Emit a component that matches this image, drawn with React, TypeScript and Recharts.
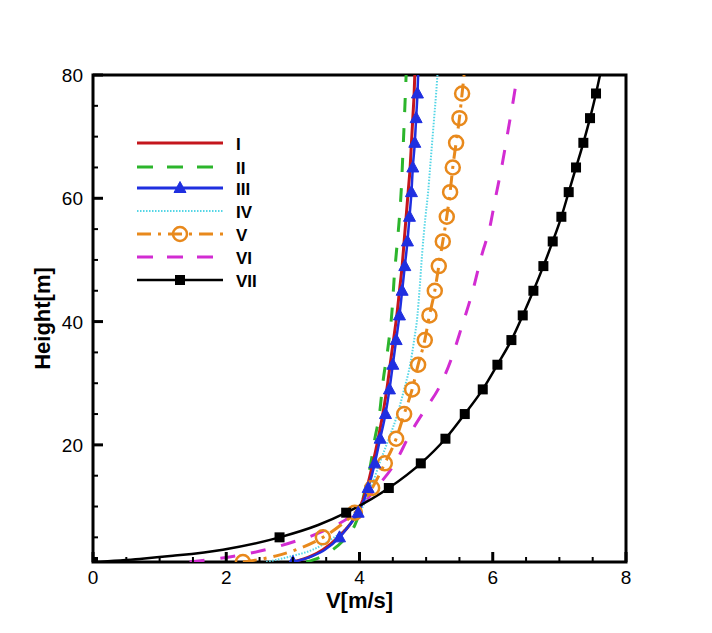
import React from 'react';
import { ComposedChart, Line, XAxis, YAxis, ReferenceArea } from 'recharts';

// Height [m] / velocity [m/s] profiles
const seriesI = [
  { h: 1, v: 3.0 }, { h: 2, v: 3.28 }, { h: 3, v: 3.45 }, { h: 5, v: 3.68 }, { h: 7, v: 3.85 },
  { h: 9, v: 3.97 }, { h: 13, v: 4.11 }, { h: 17, v: 4.2 }, { h: 21, v: 4.28 }, { h: 25, v: 4.35 },
  { h: 29, v: 4.41 }, { h: 33, v: 4.46 }, { h: 37, v: 4.51 }, { h: 41, v: 4.56 }, { h: 45, v: 4.6 },
  { h: 49, v: 4.64 }, { h: 53, v: 4.67 }, { h: 57, v: 4.7 }, { h: 61, v: 4.73 }, { h: 65, v: 4.76 },
  { h: 69, v: 4.78 }, { h: 73, v: 4.8 }, { h: 77, v: 4.82 }, { h: 80, v: 4.83 },
];
const seriesII = [
  { h: 1, v: 3.2 }, { h: 2, v: 3.45 }, { h: 3, v: 3.6 }, { h: 5, v: 3.8 }, { h: 7, v: 3.93 },
  { h: 9, v: 4.0 }, { h: 13, v: 4.09 }, { h: 17, v: 4.17 }, { h: 21, v: 4.23 }, { h: 25, v: 4.3 },
  { h: 30, v: 4.35 }, { h: 36, v: 4.43 }, { h: 42, v: 4.49 }, { h: 47, v: 4.52 }, { h: 52, v: 4.56 },
  { h: 57, v: 4.6 }, { h: 62, v: 4.63 }, { h: 67, v: 4.65 }, { h: 72, v: 4.67 }, { h: 80, v: 4.7 },
];
const seriesIII = [
  { h: 1, v: 3.0 }, { h: 2, v: 3.3 }, { h: 3, v: 3.48 }, { h: 5, v: 3.7 }, { h: 7, v: 3.85 },
  { h: 9, v: 3.98 }, { h: 13, v: 4.13 }, { h: 17, v: 4.23 }, { h: 21, v: 4.31 }, { h: 25, v: 4.39 },
  { h: 29, v: 4.45 }, { h: 33, v: 4.5 }, { h: 37, v: 4.55 }, { h: 41, v: 4.6 }, { h: 45, v: 4.64 },
  { h: 49, v: 4.68 }, { h: 53, v: 4.72 }, { h: 57, v: 4.75 }, { h: 61, v: 4.78 }, { h: 65, v: 4.8 },
  { h: 69, v: 4.83 }, { h: 73, v: 4.85 }, { h: 77, v: 4.87 }, { h: 80, v: 4.88 },
];
const seriesIV = [
  { h: 1, v: 2.6 }, { h: 2, v: 3.0 }, { h: 3, v: 3.3 }, { h: 5, v: 3.62 }, { h: 7, v: 3.85 },
  { h: 9, v: 4.0 }, { h: 13, v: 4.17 }, { h: 17, v: 4.3 }, { h: 21, v: 4.44 }, { h: 25, v: 4.57 },
  { h: 29, v: 4.67 }, { h: 33, v: 4.76 }, { h: 37, v: 4.82 }, { h: 41, v: 4.87 }, { h: 45, v: 4.9 },
  { h: 51, v: 4.94 }, { h: 57, v: 4.99 }, { h: 61, v: 5.03 }, { h: 65, v: 5.06 }, { h: 69, v: 5.09 },
  { h: 73, v: 5.12 }, { h: 77, v: 5.15 }, { h: 80, v: 5.17 },
];
const seriesV = [
  { h: 1, v: 2.25 }, { h: 2, v: 2.75 }, { h: 3, v: 3.05 }, { h: 5, v: 3.45 }, { h: 7, v: 3.72 },
  { h: 9, v: 3.93 }, { h: 13, v: 4.19 }, { h: 17, v: 4.38 }, { h: 21, v: 4.55 }, { h: 25, v: 4.67 },
  { h: 29, v: 4.79 }, { h: 33, v: 4.88 }, { h: 37, v: 4.98 }, { h: 41, v: 5.05 }, { h: 45, v: 5.13 },
  { h: 49, v: 5.19 }, { h: 53, v: 5.25 }, { h: 57, v: 5.31 }, { h: 61, v: 5.36 }, { h: 65, v: 5.4 },
  { h: 69, v: 5.45 }, { h: 73, v: 5.5 }, { h: 77, v: 5.54 }, { h: 80, v: 5.57 },
];
const seriesVI = [
  { h: 1, v: 1.45 }, { h: 2, v: 2.15 }, { h: 3, v: 2.6 }, { h: 4, v: 2.93 }, { h: 6, v: 3.45 },
  { h: 9, v: 3.93 }, { h: 13, v: 4.25 }, { h: 17, v: 4.53 }, { h: 22, v: 4.77 }, { h: 26, v: 5.0 },
  { h: 29, v: 5.18 }, { h: 34, v: 5.38 }, { h: 39, v: 5.53 }, { h: 45, v: 5.7 }, { h: 51, v: 5.84 },
  { h: 55, v: 5.95 }, { h: 60, v: 6.04 }, { h: 66, v: 6.15 }, { h: 71, v: 6.23 }, { h: 76, v: 6.31 },
  { h: 78, v: 6.34 },
];
const seriesVII = [
  { h: 1, v: 0 }, { h: 1.5, v: 0.7 }, { h: 2, v: 1.2 }, { h: 3, v: 1.95 }, { h: 5, v: 2.8 },
  { h: 7, v: 3.38 }, { h: 9, v: 3.8 }, { h: 13, v: 4.44 }, { h: 17, v: 4.92 }, { h: 21, v: 5.29 },
  { h: 25, v: 5.58 }, { h: 29, v: 5.85 }, { h: 33, v: 6.07 }, { h: 37, v: 6.28 }, { h: 41, v: 6.45 },
  { h: 45, v: 6.61 }, { h: 49, v: 6.76 }, { h: 53, v: 6.9 }, { h: 57, v: 7.03 }, { h: 61, v: 7.14 },
  { h: 65, v: 7.25 }, { h: 69, v: 7.36 }, { h: 73, v: 7.46 }, { h: 77, v: 7.55 }, { h: 80, v: 7.61 },
];

const MARKER_HEIGHTS = [1, 5, 9, 13, 17, 21, 25, 29, 33, 37, 41, 45, 49, 53, 57, 61, 65, 69, 73, 77];
const X_TICKS = [0, 0.5, 1, 1.5, 2, 2.5, 3, 3.5, 4, 4.5, 5, 5.5, 6, 6.5, 7, 7.5, 8];
const Y_TICKS = [5, 10, 15, 20, 25, 30, 35, 40, 45, 50, 55, 60, 65, 70, 75, 80];
const LEGEND_LABELS = ['I', 'II', 'III', 'IV', 'V', 'VI', 'VII'];

const FONT = '"Liberation Sans", Arial, Helvetica, sans-serif';

const C_RED = '#C4161C';
const C_GREEN = '#2CB52C';
const C_BLUE = '#1F2FE0';
const C_CYAN = '#55D6E6';
const C_ORANGE = '#E8891C';
const C_MAGENTA = '#D22CD2';
const C_BLACK = '#000000';

const Tri = ({ cx, cy, color }: any) => (
  <path d={`M${cx},${cy - 6.5} L${cx + 6},${cy + 4.5} L${cx - 6},${cy + 4.5} Z`} fill={color} stroke={color} strokeWidth={1} />
);
const Circ = ({ cx, cy, color }: any) => (
  <circle cx={cx} cy={cy} r={7} fill="none" stroke={color} strokeWidth={2.5} />
);
const Sq = ({ cx, cy, color }: any) => (
  <rect x={cx - 5} y={cy - 5} width={10} height={10} fill={color} />
);

const makeDot = (Shape: any, color: string) => (props: any) => {
  const { cx, cy, payload, index } = props;
  if (!payload || !MARKER_HEIGHTS.includes(payload.h) || cx == null || cy == null) {
    return <g key={`d-${index}`} />;
  }
  return (
    <g key={`d-${index}`}>
      <Shape cx={cx} cy={cy} color={color} />
    </g>
  );
};

const XTick = (props: any) => {
  const { x, y, payload } = props;
  const val = payload.value;
  const major = val % 2 === 0;
  return (
    <g>
      <line x1={x} y1={y} x2={x} y2={y - (major ? 10 : 5)} stroke="#000" strokeWidth={major ? 3 : 2} />
      {major && (
        <text x={x} y={y + 22} textAnchor="middle" fontFamily={FONT} fontSize={19} fill="#000">
          {val}
        </text>
      )}
    </g>
  );
};

const YTick = (props: any) => {
  const { x, y, payload } = props;
  const val = payload.value;
  const major = val % 20 === 0;
  return (
    <g>
      <line x1={x} y1={y} x2={x + (major ? 10 : 5)} y2={y} stroke="#000" strokeWidth={major ? 3 : 2} />
      {major && (
        <text x={x - 10} y={y + 7} textAnchor="end" fontFamily={FONT} fontSize={19} fill="#000">
          {val}
        </text>
      )}
    </g>
  );
};

const YLabel = (props: any) => {
  const vb = props.viewBox || {};
  const cx = vb.x + 50;
  const cy = vb.y + vb.height / 2;
  return (
    <text
      x={cx}
      y={cy}
      transform={`rotate(-90 ${cx} ${cy})`}
      textAnchor="middle"
      fontFamily={FONT}
      fontSize={22}
      fontWeight="bold"
      fill="#000"
    >
      Height[m]
    </text>
  );
};

const XLabel = (props: any) => {
  const vb = props.viewBox || {};
  const cx = vb.x + vb.width / 2;
  const cy = vb.y + 46;
  return (
    <text x={cx} y={cy} textAnchor="middle" fontFamily={FONT} fontSize={22} fontWeight="bold" fill="#000">
      V[m/s]
    </text>
  );
};

const legendItems = [
  { label: LEGEND_LABELS[0], color: C_RED, dash: undefined, width: 3, marker: null },
  { label: LEGEND_LABELS[1], color: C_GREEN, dash: '16 14', width: 3, marker: null },
  { label: LEGEND_LABELS[2], color: C_BLUE, dash: undefined, width: 3, marker: Tri },
  { label: LEGEND_LABELS[3], color: C_CYAN, dash: '1.5 1.5', width: 2, marker: null },
  { label: LEGEND_LABELS[4], color: C_ORANGE, dash: '14 7 3 7', width: 3, marker: Circ },
  { label: LEGEND_LABELS[5], color: C_MAGENTA, dash: '16 14', width: 3, marker: null },
  { label: LEGEND_LABELS[6], color: C_BLACK, dash: undefined, width: 2.5, marker: Sq },
];
const LEGEND_ROWS = [143, 167, 188, 211, 234, 257, 280];

const LegendBox = () => (
  <svg width={712} height={633} style={{ position: 'absolute', left: 0, top: 0, pointerEvents: 'none' }}>
    {legendItems.map((it, i) => {
      const y = LEGEND_ROWS[i];
      const M = it.marker as any;
      return (
        <g key={it.label}>
          <line x1={137} y1={y} x2={223} y2={y} stroke={it.color} strokeWidth={it.width} strokeDasharray={it.dash} />
          {M && <M cx={180} cy={y} color={it.color} />}
          <text x={236} y={y + 6.5} fontFamily={FONT} fontSize={17} fontWeight="bold" fill="#000">
            {it.label}
          </text>
        </g>
      );
    })}
  </svg>
);

export default function App() {
  return (
    <div style={{ position: 'absolute', left: 0, top: 0, width: 712, height: 633, background: '#fff' }}>
      <ComposedChart width={712} height={633} margin={{ top: 75, right: 86, bottom: 0, left: 0 }}>
        <XAxis
          type="number"
          dataKey="v"
          domain={[0, 8]}
          ticks={X_TICKS}
          interval={0}
          tickSize={0}
          tickMargin={0}
          tickLine={false}
          axisLine={false}
          tick={<XTick />}
          height={71}
          label={<XLabel />}
          allowDataOverflow
        />
        <YAxis
          type="number"
          dataKey="h"
          domain={[1, 80]}
          ticks={Y_TICKS}
          interval={0}
          tickSize={0}
          tickMargin={0}
          tickLine={false}
          axisLine={false}
          tick={<YTick />}
          width={93}
          label={<YLabel />}
          allowDataOverflow
        />
        <ReferenceArea x1={0} x2={8} y1={1} y2={80} fill="none" fillOpacity={0} stroke="#000" strokeWidth={3} ifOverflow="visible" />
        <Line data={seriesVI} dataKey="h" type="monotone" stroke={C_MAGENTA} strokeWidth={3} strokeDasharray="15 16" dot={false} isAnimationActive={false} />
        <Line data={seriesIV} dataKey="h" type="monotone" stroke={C_CYAN} strokeWidth={2} strokeDasharray="1.5 1.5" dot={false} isAnimationActive={false} />
        <Line data={seriesII} dataKey="h" type="monotone" stroke={C_GREEN} strokeWidth={3} strokeDasharray="14 16" dot={false} isAnimationActive={false} />
        <Line data={seriesV} dataKey="h" type="monotone" stroke={C_ORANGE} strokeWidth={3} strokeDasharray="14 7 3 7" dot={makeDot(Circ, C_ORANGE)} isAnimationActive={false} />
        <Line data={seriesI} dataKey="h" type="monotone" stroke={C_RED} strokeWidth={3} dot={false} isAnimationActive={false} />
        <Line data={seriesIII} dataKey="h" type="monotone" stroke={C_BLUE} strokeWidth={2.5} dot={makeDot(Tri, C_BLUE)} isAnimationActive={false} />
        <Line data={seriesVII} dataKey="h" type="monotone" stroke={C_BLACK} strokeWidth={2.5} dot={makeDot(Sq, C_BLACK)} isAnimationActive={false} />
      </ComposedChart>
      <LegendBox />
    </div>
  );
}
